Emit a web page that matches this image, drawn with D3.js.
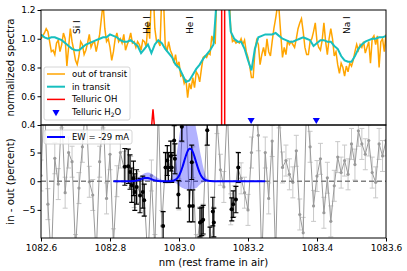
<!DOCTYPE html>
<html>
<head>
<meta charset="utf-8">
<script src="https://cdn.jsdelivr.net/npm/d3@7"></script>
<style>
body { margin: 0; background: #fff; }
text { font-family: "DejaVu Sans", sans-serif; }
</style>
</head>
<body>
<div id="chart"></div>
<script>
// ---- data ----
var xTicks = [1082.6, 1082.8, 1083.0, 1083.2, 1083.4, 1083.6];
var topTicks = [0.4, 0.6, 0.8, 1.0, 1.2];
var botTicks = [-5, 0, 5];

// out of transit spectrum, 0.005 nm sampling from 1082.6
var outStart = 1082.6, outStep = 0.005;
var outVals = [
  1.00,1.02,1.04,1.07,1.05,0.98,0.91,0.92,0.89,0.97,
  0.99,0.91,0.96,1.04,1.00,0.81,0.94,1.07,0.98,0.92,
  0.85,0.82,0.88,0.98,0.96,0.89,0.92,0.97,1.03,0.94,
  0.97,0.98,0.91,0.97,1.03,1.14,1.25,1.07,0.98,1.00,
  0.94,0.85,0.91,1.00,1.04,0.98,1.00,0.97,1.03,0.92,
  0.96,0.99,1.04,0.97,0.98,0.94,0.98,0.96,0.92,0.99,
  0.98,0.94,1.12,1.00,1.30,1.35,1.07,0.98,0.98,0.95,
  1.30,1.28,0.96,0.91,0.98,0.92,0.89,0.83,0.89,0.81,
  0.84,0.74,0.75,0.69,0.72,0.59,0.69,0.65,0.73,0.66,
  0.77,0.75,0.70,0.79,0.87,0.88,0.87,0.90,0.89,1.02,
  0.98,0.97,1.35,1.60,1.80,1.90,1.80,1.60,1.40,1.30,
  1.07,0.98,0.99,0.97,0.98,0.97,1.00,0.96,0.99,0.91,
  0.87,0.81,0.73,0.73,0.91,0.99,0.96,0.82,0.89,0.94,
  0.88,1.00,0.91,0.88,0.98,1.07,1.14,1.22,1.20,1.03,
  0.87,0.94,0.89,0.99,0.96,0.98,0.96,0.94,1.00,1.07,
  1.11,1.14,1.05,0.94,0.89,0.89,0.98,1.00,1.05,1.11,
  0.98,0.94,0.92,0.99,1.11,0.98,0.89,1.00,1.07,1.00,
  0.88,0.91,0.82,0.76,0.83,0.80,0.74,0.81,0.77,0.83,
  0.81,0.85,0.91,0.96,0.92,0.96,0.94,0.98,0.90,0.94,
  0.98,0.83,1.00,1.02,0.96,1.02,0.80,0.98,1.00,0.91,1.03
];

// in transit spectrum, 0.01 nm sampling from 1082.6
var inStart = 1082.6, inStep = 0.01;
var inVals = [
  1.03,1.01,1.00,1.01,1.01,1.00,0.99,0.97,0.95,0.93,
  0.92,0.92,0.94,0.96,0.97,0.98,0.99,1.00,1.01,1.01,
  1.03,1.02,1.01,0.99,0.98,0.98,0.99,0.97,0.95,0.90,
  0.93,0.96,0.90,0.96,0.99,0.97,0.93,0.90,0.87,0.82,
  0.80,0.75,0.70,0.71,0.75,0.79,0.82,0.86,0.89,0.92,
  0.96,1.30,1.45,1.50,1.40,1.05,1.00,0.98,0.98,0.93,
  0.85,0.78,0.93,1.01,1.02,1.03,1.03,1.03,1.04,1.02,
  1.00,0.99,0.98,0.98,0.99,1.00,1.01,1.00,0.99,0.95,
  0.97,0.99,0.99,0.98,0.98,0.95,0.93,0.88,0.85,0.84,
  0.84,0.88,0.93,0.96,0.98,0.99,1.00,1.00,1.01,1.01,
  1.02
];

// telluric OH emission
var ohWl  = [1082.60, 1082.9174, 1082.9246, 1082.9319, 1083.1235, 1083.128, 1083.1325, 1083.60];
var ohVal = [0.30, 0.30, 0.51, 0.30, 0.30, 20, 0.30, 0.30];

// telluric H2O positions
var h2oWl = [1083.209, 1083.398];
var h2oY = 0.435;

// line identifications
var lineNames = ["Si I", "He I", "He I", "Na I"];
var lineWl = [1082.7035, 1082.906, 1083.032, 1083.487];

// in - out residuals (grey, all points), 0.01 nm sampling
var grayStart = 1082.6, grayStep = 0.01;
var grayVals = [
  1.0, 15, -4, -14, 4, -0.5, 12, -2, 5, 3.4,
  -12, -1.2, 6, 14, -0.1, -2.4, -13, 3.4, 12, -3,
  4.7, -11, 0, 5, 2.5, 2.6, 1.6, -1.9, -1.0, -2.5,
  -3.3, -14, 1.0, -12, 13, -7.8, 2.4, 2.4, 4.4, 3.9,
  -2.3, 9.5, 14, -4.3, 3.3, -12, -7.2, -6.7, 8.9, -13,
  -7.2, 11, 2, -1, 13, -4.9, -3.5, 2.4, 0.5, -2,
  -5, 5, 13, 8, -14, 5, -3, 7, -13, 12,
  2.4, 3.6, 1.2, -0.2, 5.3, -5.8, -9, 14, 6, -4.3,
  0.9, 3.9, -5.5, 0.6, -7, -0.8, 4.2, 1.5, 3.6, 1.2,
  6.5, 2.9, 8.8, 6.5, 4.7, 7.1, 1.5, -0.2, 6.5, 4.4,
  7.1
];
var grayErr = 2.7;

// in - out residuals used in the fit (black)
var blackWl = [1082.843, 1082.853, 1082.858, 1082.863, 1082.868, 1082.872, 1082.877, 1082.887, 1082.895, 1082.899,
  1082.954, 1082.961, 1082.966, 1082.969, 1082.976, 1082.979, 1082.986, 1082.988, 1082.998, 1083.008,
  1083.030, 1083.037, 1083.040, 1083.061, 1083.066, 1083.070, 1083.082, 1083.090, 1083.098, 1083.101,
  1083.153, 1083.157, 1083.165, 1083.172];
var blackVal = [2.5, 2.6, 1.6, -0.7, 0.5, -1.9, -1.0, -2.5, -1.9, -3.3,
  -7.8, 2.4, 3.6, 2.4, 4.4, 2.4, 7.1, 3.9, -2.3, 9.5,
  -4.3, 3.3, -4.3, -7.2, -7.0, -6.7, 8.9, -10.5, -5.3, -7.2,
  -4.9, -4.0, -3.2, 2.4];
var blackErr = [3.2, 3.0, 3.0, 3.0, 3.0, 3.2, 3.0, 3.0, 2.8, 2.8,
  2.5, 2.6, 2.6, 2.6, 2.6, 2.6, 2.6, 2.6, 2.4, 2.5,
  2.8, 3.0, 2.8, 2.5, 2.5, 2.5, 2.6, 2.5, 2.5, 2.5,
  2.0, 2.3, 2.3, 2.6];

// Gaussian fit and its spread
var fitWl = [1082.81, 1082.82, 1082.83, 1082.84, 1082.85, 1082.86, 1082.87, 1082.88, 1082.89, 1082.90,
  1082.91, 1082.92, 1082.93, 1082.94, 1082.95, 1082.96, 1082.97, 1082.98, 1082.99, 1082.995,
  1083.00, 1083.005, 1083.01, 1083.015, 1083.02, 1083.025, 1083.03, 1083.035, 1083.04, 1083.045,
  1083.05, 1083.055, 1083.06, 1083.065, 1083.07, 1083.08, 1083.09, 1083.10, 1083.12, 1083.15,
  1083.20, 1083.25];
var fitVal = [0, 0, 0, 0, 0, 0.01, 0.04, 0.15, 0.36, 0.57,
  0.57, 0.36, 0.15, 0.04, 0.01, 0, 0.01, 0.05, 0.27, 0.53,
  0.97, 1.62, 2.47, 3.46, 4.44, 5.24, 5.66, 5.61, 5.10, 4.25,
  3.26, 2.28, 1.46, 0.87, 0.47, 0.11, 0.02, 0, 0, 0,
  0, 0];
var fitLow = [-0.05, -0.05, -0.05, -0.05, -0.05, -0.05, -0.05, -0.02, 0, 0.05,
  0.05, 0, -0.05, -0.05, -0.05, -0.05, -0.05, -0.1, -0.3, -0.5,
  -0.8, -1.0, -1.2, -1.3, -1.4, -1.4, -1.4, -1.4, -1.4, -1.3,
  -1.2, -0.9, -0.6, -0.35, -0.2, -0.05, -0.05, -0.05, -0.05, -0.05,
  -0.05, -0.05];
var fitHigh = [0.05, 0.05, 0.05, 0.05, 0.05, 0.15, 0.35, 0.65, 1.0, 1.4,
  1.5, 1.3, 0.9, 0.5, 0.25, 0.1, 0.2, 1.0, 3.5, 5.5,
  7.5, 9.5, 11, 12, 12, 12, 12, 12, 12, 11,
  9, 7.5, 5.5, 4, 2.5, 0.6, 0.1, 0.05, 0.05, 0.05,
  0.05, 0.05];
var ewLabel = "EW = -29 mA";

// ---- chart ----
var W = 407, H = 271;
var left = 41, right = 386, top0 = 10, mid = 125, bottom = 238;

var svg = d3.select("#chart").append("svg")
    .attr("width", W)
    .attr("height", H);

var x = d3.scaleLinear().domain([1082.6, 1083.6]).range([left, right]);
var yTop = d3.scaleLinear().domain([0.4, 1.2]).range([mid, top0]);
var yBot = d3.scaleLinear().domain([-9.9, 9.8]).range([bottom, mid]);

var defs = svg.append("defs");
defs.append("clipPath").attr("id", "clipTop")
  .append("rect").attr("x", left).attr("y", top0).attr("width", right - left).attr("height", mid - top0);
defs.append("clipPath").attr("id", "clipBot")
  .append("rect").attr("x", left).attr("y", mid).attr("width", right - left).attr("height", bottom - mid);

// top panel
var gTop = svg.append("g").attr("clip-path", "url(#clipTop)");

var outLine = d3.line()
    .x(function(d, i) { return x(outStart + i * outStep); })
    .y(function(d) { return yTop(d); });
gTop.append("path").datum(outVals)
    .attr("d", outLine)
    .attr("fill", "none")
    .attr("stroke", "#ffa500")
    .attr("stroke-width", 1.5);

var inLine = d3.line()
    .x(function(d, i) { return x(inStart + i * inStep); })
    .y(function(d) { return yTop(d); });
gTop.append("path").datum(inVals)
    .attr("d", inLine)
    .attr("fill", "none")
    .attr("stroke", "#17bfbf")
    .attr("stroke-width", 2);

var ohLine = d3.line()
    .x(function(d, i) { return x(ohWl[i]); })
    .y(function(d) { return yTop(d); });
gTop.append("path").datum(ohVal)
    .attr("d", ohLine)
    .attr("fill", "none")
    .attr("stroke", "#ff0000")
    .attr("stroke-width", 1.5);

var tri = d3.symbol().type(d3.symbolTriangle).size(22);
gTop.selectAll(".h2o").data(h2oWl).enter().append("path")
    .attr("class", "h2o")
    .attr("d", tri)
    .attr("transform", function(d) { return "translate(" + x(d) + "," + yTop(h2oY) + ") rotate(180)"; })
    .attr("fill", "#0000ff");

// line identifications
svg.selectAll(".ident").data(lineNames).enter().append("text")
    .attr("class", "ident")
    .attr("transform", function(d, i) { return "translate(" + (x(lineWl[i]) + 3.3) + ",34) rotate(-90)"; })
    .attr("font-size", 9)
    .text(function(d) { return d; });

// bottom panel
var gBot = svg.append("g").attr("clip-path", "url(#clipBot)");
var grayWl = grayVals.map(function(d, i) { return grayStart + i * grayStep; });

gBot.selectAll(".gerr").data(grayVals).enter().append("path")
    .attr("class", "gerr")
    .attr("d", function(d, i) {
      var cx = x(grayWl[i]), y1 = yBot(d + grayErr), y2 = yBot(d - grayErr);
      return "M" + cx + "," + y1 + "V" + y2 + "M" + (cx - 2.5) + "," + y1 + "H" + (cx + 2.5) +
             "M" + (cx - 2.5) + "," + y2 + "H" + (cx + 2.5);
    })
    .attr("stroke", "#c8c8c8")
    .attr("stroke-width", 1)
    .attr("fill", "none");

var grayLine = d3.line()
    .x(function(d, i) { return x(grayWl[i]); })
    .y(function(d) { return yBot(d); });
gBot.append("path").datum(grayVals)
    .attr("d", grayLine)
    .attr("fill", "none")
    .attr("stroke", "#9a9a9a")
    .attr("stroke-width", 1);

gBot.selectAll(".gdot").data(grayVals).enter().append("circle")
    .attr("class", "gdot")
    .attr("cx", function(d, i) { return x(grayWl[i]); })
    .attr("cy", function(d) { return yBot(d); })
    .attr("r", 1.6)
    .attr("fill", "#9a9a9a");

gBot.append("line")
    .attr("x1", x(1082.6)).attr("x2", x(1083.6))
    .attr("y1", yBot(0)).attr("y2", yBot(0))
    .attr("stroke", "#808080")
    .attr("stroke-width", 1.5)
    .attr("stroke-dasharray", "5,3");

var band = d3.area()
    .x(function(d, i) { return x(fitWl[i]); })
    .y0(function(d, i) { return yBot(fitLow[i]); })
    .y1(function(d, i) { return yBot(fitHigh[i]); })
    .curve(d3.curveMonotoneX);
gBot.append("path").datum(fitVal)
    .attr("d", band)
    .attr("fill", "#0000ff")
    .attr("fill-opacity", 0.3);

gBot.selectAll(".berr").data(blackVal).enter().append("path")
    .attr("class", "berr")
    .attr("d", function(d, i) {
      var cx = x(blackWl[i]), y1 = yBot(d + blackErr[i]), y2 = yBot(d - blackErr[i]);
      return "M" + cx + "," + y1 + "V" + y2 + "M" + (cx - 2.5) + "," + y1 + "H" + (cx + 2.5) +
             "M" + (cx - 2.5) + "," + y2 + "H" + (cx + 2.5);
    })
    .attr("stroke", "#000")
    .attr("stroke-width", 1.2)
    .attr("fill", "none");
gBot.selectAll(".bdot").data(blackVal).enter().append("circle")
    .attr("class", "bdot")
    .attr("cx", function(d, i) { return x(blackWl[i]); })
    .attr("cy", function(d) { return yBot(d); })
    .attr("r", 2)
    .attr("fill", "#000");

var fitLine = d3.line()
    .x(function(d, i) { return x(fitWl[i]); })
    .y(function(d) { return yBot(d); })
    .curve(d3.curveMonotoneX);
gBot.append("path").datum(fitVal)
    .attr("d", fitLine)
    .attr("fill", "none")
    .attr("stroke", "#0000ff")
    .attr("stroke-width", 2);

// axes
function styleAxis(g) {
  g.select(".domain").remove();
  g.selectAll("text").attr("font-size", 9).attr("font-family", "DejaVu Sans").attr("fill", "#000");
  g.selectAll("line").attr("stroke", "#000");
}
svg.append("g")
    .attr("transform", "translate(" + left + ",0)")
    .call(d3.axisLeft(yTop).tickValues(topTicks).tickFormat(d3.format(".1f")).tickSize(3.5).tickPadding(2))
    .call(styleAxis);
svg.append("g")
    .attr("transform", "translate(" + left + ",0)")
    .call(d3.axisLeft(yBot).tickValues(botTicks).tickFormat(d3.format("d")).tickSize(3.5).tickPadding(2))
    .call(styleAxis);
svg.append("g")
    .attr("transform", "translate(0," + bottom + ")")
    .call(d3.axisBottom(x).tickValues(xTicks).tickFormat(d3.format(".1f")).tickSize(3.5).tickPadding(3.5))
    .call(styleAxis);

// frames
svg.append("rect").attr("x", left).attr("y", top0).attr("width", right - left).attr("height", mid - top0)
    .attr("fill", "none").attr("stroke", "#000").attr("stroke-width", 1);
svg.append("rect").attr("x", left).attr("y", mid).attr("width", right - left).attr("height", bottom - mid)
    .attr("fill", "none").attr("stroke", "#000").attr("stroke-width", 1);

// axis labels
svg.append("text")
    .attr("transform", "translate(13.5," + ((top0 + mid) / 2) + ") rotate(-90)")
    .attr("text-anchor", "middle")
    .attr("font-size", 10.2)
    .text("normalized spectra");
svg.append("text")
    .attr("transform", "translate(13.5," + ((mid + bottom) / 2) + ") rotate(-90)")
    .attr("text-anchor", "middle")
    .attr("font-size", 10.2)
    .text("in - out (percent)");
svg.append("text")
    .attr("x", (left + right) / 2)
    .attr("y", 265.5)
    .attr("text-anchor", "middle")
    .attr("font-size", 10.2)
    .text("nm (rest frame in air)");

// legend, top panel
var lg = svg.append("g");
lg.append("rect").attr("x", 44).attr("y", 67).attr("width", 86).attr("height", 53).attr("rx", 2)
    .attr("fill", "#fff").attr("fill-opacity", 0.8).attr("stroke", "#cccccc").attr("stroke-width", 0.8);
var legNames = ["out of transit", "in transit", "Telluric OH"];
var legColors = ["#ffa500", "#17bfbf", "#ff0000"];
var legWidths = [1.5, 2, 1.5];
legNames.forEach(function(n, i) {
  var ly = 74 + i * 12.7;
  lg.append("line").attr("x1", 47).attr("x2", 65).attr("y1", ly).attr("y2", ly)
      .attr("stroke", legColors[i]).attr("stroke-width", legWidths[i]);
  lg.append("text").attr("x", 72).attr("y", ly + 3).attr("font-size", 8.5).text(n);
});
var ly4 = 74 + 3 * 12.7;
lg.append("path").attr("d", tri)
    .attr("transform", "translate(56," + ly4 + ") rotate(180)")
    .attr("fill", "#0000ff");
var t4 = lg.append("text").attr("x", 72).attr("y", ly4 + 3).attr("font-size", 8.5);
t4.append("tspan").text("Telluric H");
t4.append("tspan").attr("font-size", 6).attr("dy", 2).text("2");
t4.append("tspan").attr("dy", -2).text("O");

// legend, bottom panel
var lb = svg.append("g");
lb.append("rect").attr("x", 44).attr("y", 130).attr("width", 88).attr("height", 14).attr("rx", 2)
    .attr("fill", "#fff").attr("fill-opacity", 0.8).attr("stroke", "#cccccc").attr("stroke-width", 0.8);
lb.append("line").attr("x1", 47).attr("x2", 65).attr("y1", 137).attr("y2", 137)
    .attr("stroke", "#0000ff").attr("stroke-width", 2);
lb.append("text").attr("x", 72).attr("y", 140).attr("font-size", 8.5).text(ewLabel);
</script>
</body>
</html>
